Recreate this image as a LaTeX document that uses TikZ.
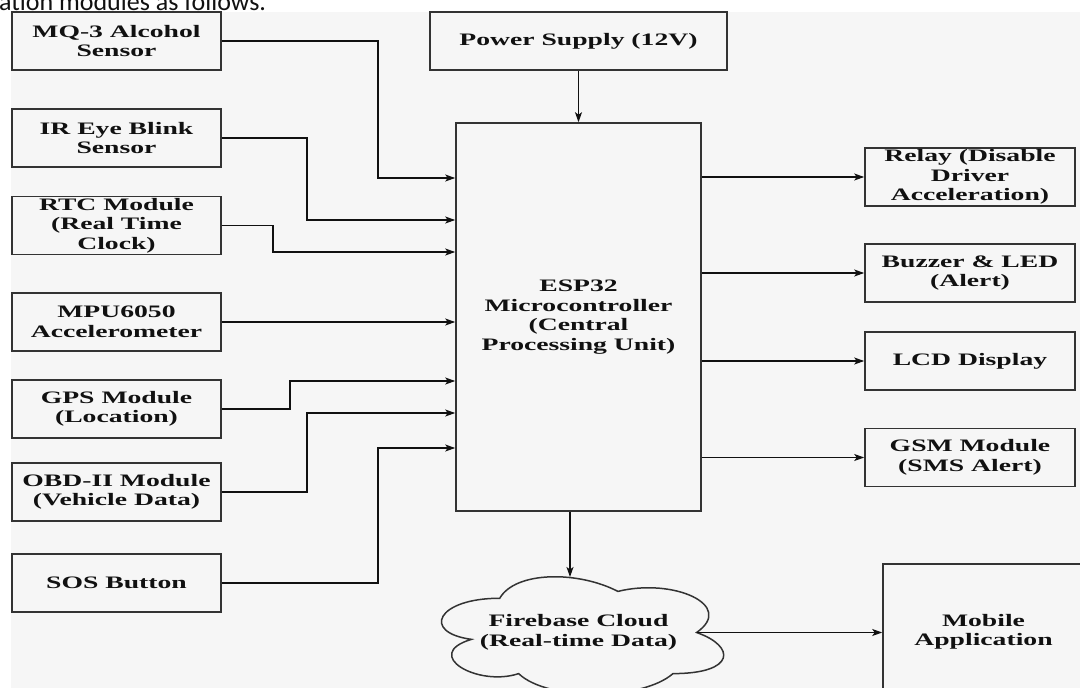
\documentclass[tikz,border=0pt]{standalone}
\usepackage{fontspec}
\usetikzlibrary{arrows.meta,calc}
\newfontfamily\boxfont{Liberation Serif}[FakeStretch=1.58]
\newfontfamily\docfont{Carlito}
\definecolor{bg}{HTML}{F6F6F6}
\definecolor{edge}{HTML}{333333}
\definecolor{ink}{HTML}{111111}
\begin{document}
\begin{tikzpicture}[x=1pt,y=-1pt,
  blk/.style={draw=edge, line width=1.6pt, fill=bg, inner sep=0pt, align=center,
    text=ink, font=\boxfont\bfseries\fontsize{17.5}{19.5}\selectfont},
  lbox/.style={blk, minimum width=209pt, minimum height=58pt},
  rbox/.style={blk, minimum width=210pt, minimum height=58pt},
  txt/.style={inner sep=0pt, align=center, text=ink,
    font=\boxfont\bfseries\fontsize{17.5}{19.5}\selectfont},
  arr/.style={draw=ink, line width=1.3pt, -{Stealth[length=10pt,width=7pt,inset=2.5pt]}}]
\useasboundingbox (0,0) rectangle (1080,688);
\fill[white] (0,0) rectangle (1080,688);
\fill[bg] (11,12) rectangle (1080,688);
\node[anchor=base west, inner sep=0pt, text=ink, font=\docfont\fontsize{26}{30}\selectfont] (cap) at (-1,10) {ation modules as follows.};

% left inputs
\node[lbox] (mq)  at (116.5,41)  {MQ-3 Alcohol\\Sensor};
\node[lbox] (ir)  at (116.5,138) {IR Eye Blink\\Sensor};
\node[lbox] (rtc) at (116.5,225.5) {RTC Module\\(Real Time\\Clock)};
\node[lbox] (mpu) at (116.5,322) {MPU6050\\Accelerometer};
\node[lbox] (gps) at (116.5,409) {GPS Module\\(Location)};
\node[lbox] (obd) at (116.5,492) {OBD-II Module\\(Vehicle Data)};
\node[lbox] (sos) at (116.5,583) {SOS Button};

% centre
\node[blk, minimum width=297pt, minimum height=58pt] (power) at (578.5,41) {Power Supply (12V)};
\node[blk, minimum width=245pt, minimum height=388pt] (esp) at (578.5,317) {ESP32\\Microcontroller\\(Central\\Processing Unit)};

% right outputs
\node[rbox] (relay) at (970,177) {Relay (Disable\\Driver\\Acceleration)};
\node[rbox] (buzz)  at (970,273) {Buzzer \& LED\\(Alert)};
\node[rbox] (lcd)   at (970,361) {LCD Display};
\node[rbox] (gsm)   at (970,457.5) {GSM Module\\(SMS Alert)};

% cloud
\draw[draw=edge, line width=1.5pt, fill=bg]
  (499.75,598.25) .. controls (436.75,598.25) and (421,632.5) .. (471.4,639.35)
  .. controls (421,654.42) and (477.7,687.3) .. (518.65,673.6)
  .. controls (547,701) and (641.5,701) .. (673,673.6)
  .. controls (736,673.6) and (736,646.2) .. (696.6,632.5)
  .. controls (736,605.1) and (673,577.7) .. (617.9,591.4)
  .. controls (578.5,570.85) and (515.5,570.85) .. (499.75,598.25) -- cycle;
\node[txt] (cloud) at (578.5,632.5) {Firebase Cloud\\(Real-time Data)};
\coordinate (cloudtop) at (570,577);
\coordinate (cloudout) at (696.6,632.5);

\node[blk, minimum width=201pt, minimum height=136pt] (mobile) at (983.5,632) {Mobile\\Application};

% connectors
\draw[arr] (mq.east)  -- (378,41)  |- (esp.west |- 0,178);
\draw[arr] (ir.east)  -- (307,138) |- (esp.west |- 0,220);
\draw[arr] (rtc.east) -- (273,225.5) |- (esp.west |- 0,252);
\draw[arr] (mpu.east) -- (esp.west |- mpu.east);
\draw[arr] (gps.east) -- (290,409) |- (esp.west |- 0,381);
\draw[arr] (obd.east) -- (307,492) |- (esp.west |- 0,413);
\draw[arr] (sos.east) -- (378,583) |- (esp.west |- 0,448);

\draw[arr] (power.south) -- (power.south |- esp.north);
\draw[arr] (esp.east |- relay.west) -- (relay.west);
\draw[arr] (esp.east |- buzz.west) -- (buzz.west);
\draw[arr] (esp.east |- lcd.west) -- (lcd.west);
\draw[arr] (esp.east |- gsm.west) -- (gsm.west);
\draw[arr] (esp.south -| cloudtop) -- (cloudtop);
\draw[arr] (cloudout) -- (mobile.west |- cloudout);
\end{tikzpicture}
\end{document}
